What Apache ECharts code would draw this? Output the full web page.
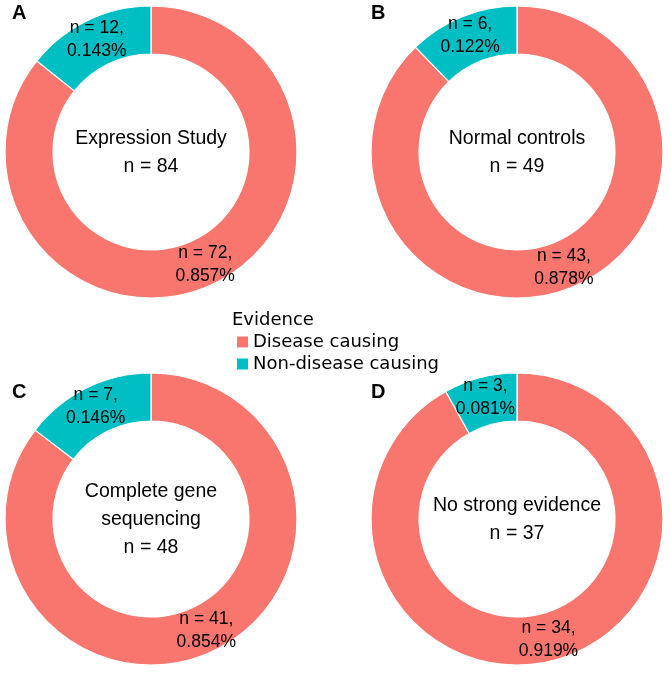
<!DOCTYPE html>
<html>
<head>
<meta charset="utf-8">
<script src="https://cdn.jsdelivr.net/npm/echarts@6/dist/echarts.min.js"></script>
<style>
html,body{margin:0;padding:0;background:#fff;}
#chart{width:671px;height:674px;}
</style>
</head>
<body>
<div id="chart"></div>
<script>
// ---- data ----
var categories = ['Disease causing', 'Non-disease causing'];
var panelLetters = ['A', 'B', 'C', 'D'];
var panelTitles = ['Expression Study', 'Normal controls', 'Complete gene\nsequencing', 'No strong evidence'];
var diseaseCausing = [72, 43, 41, 34];
var nonDiseaseCausing = [12, 6, 7, 3];
var legendTitle = 'Evidence';

// ---- layout ----
var colors = ['#F8766D', '#00BFC4'];
var centers = [[151, 152], [517, 152], [151, 519], [517, 519]];
var letterPos = [[12, 13.5], [371, 13], [12, 392], [371, 392]];
var FONT = '"Liberation Sans", Arial, Helvetica, sans-serif';

var chart = echarts.init(document.getElementById('chart'), null, {renderer: 'canvas'});

var series = [];
var graphics = [];
for (var i = 0; i < 4; i++) {
  var total = diseaseCausing[i] + nonDiseaseCausing[i];
  (function (total) {
    series.push({
      type: 'pie',
      center: centers[i],
      radius: [98, 146],
      startAngle: 90,
      clockwise: true,
      avoidLabelOverlap: false,
      silent: true,
      animation: false,
      itemStyle: {borderColor: '#ffffff', borderWidth: 1.2},
      emphasis: {disabled: true},
      label: {
        show: true,
        position: 'inside',
        color: '#000',
        fontFamily: FONT,
        fontSize: 17.5,
        lineHeight: 23,
        align: 'center',
        formatter: function (p) {
          return 'n = ' + p.value + ',\n' + (p.value / total).toFixed(3) + '%';
        }
      },
      labelLine: {show: false},
      data: [
        {name: categories[0], value: diseaseCausing[i]},
        {name: categories[1], value: nonDiseaseCausing[i]}
      ]
    });
  })(total);
  graphics.push({
    type: 'text',
    x: centers[i][0],
    y: centers[i][1] + 1,
    style: {
      text: panelTitles[i] + '\nn = ' + total,
      fill: '#000',
      font: '19.5px ' + FONT,
      lineHeight: 28,
      align: 'center',
      verticalAlign: 'middle'
    }
  });
  graphics.push({
    type: 'text',
    x: letterPos[i][0],
    y: letterPos[i][1],
    style: {
      text: panelLetters[i],
      fill: '#000',
      font: 'bold 20px ' + FONT,
      align: 'left',
      verticalAlign: 'middle'
    }
  });
}
graphics.push({
  type: 'text',
  x: 232,
  y: 320,
  style: {
    text: legendTitle,
    fill: '#000',
    font: '18px "DejaVu Sans", sans-serif',
    align: 'left',
    verticalAlign: 'middle'
  }
});

chart.setOption({
  animation: false,
  color: colors,
  legend: {
    orient: 'vertical',
    left: 235,
    top: 331,
    padding: 0,
    itemGap: 0,
    itemWidth: 13,
    itemHeight: 13,
    icon: 'rect',
    selectedMode: false,
    data: categories,
    textStyle: {
      fontFamily: '"DejaVu Sans", sans-serif',
      fontSize: 18,
      lineHeight: 22,
      color: '#000',
      padding: [0, 0, 0, -1]
    }
  },
  graphic: graphics,
  series: series
});
</script>
</body>
</html>
